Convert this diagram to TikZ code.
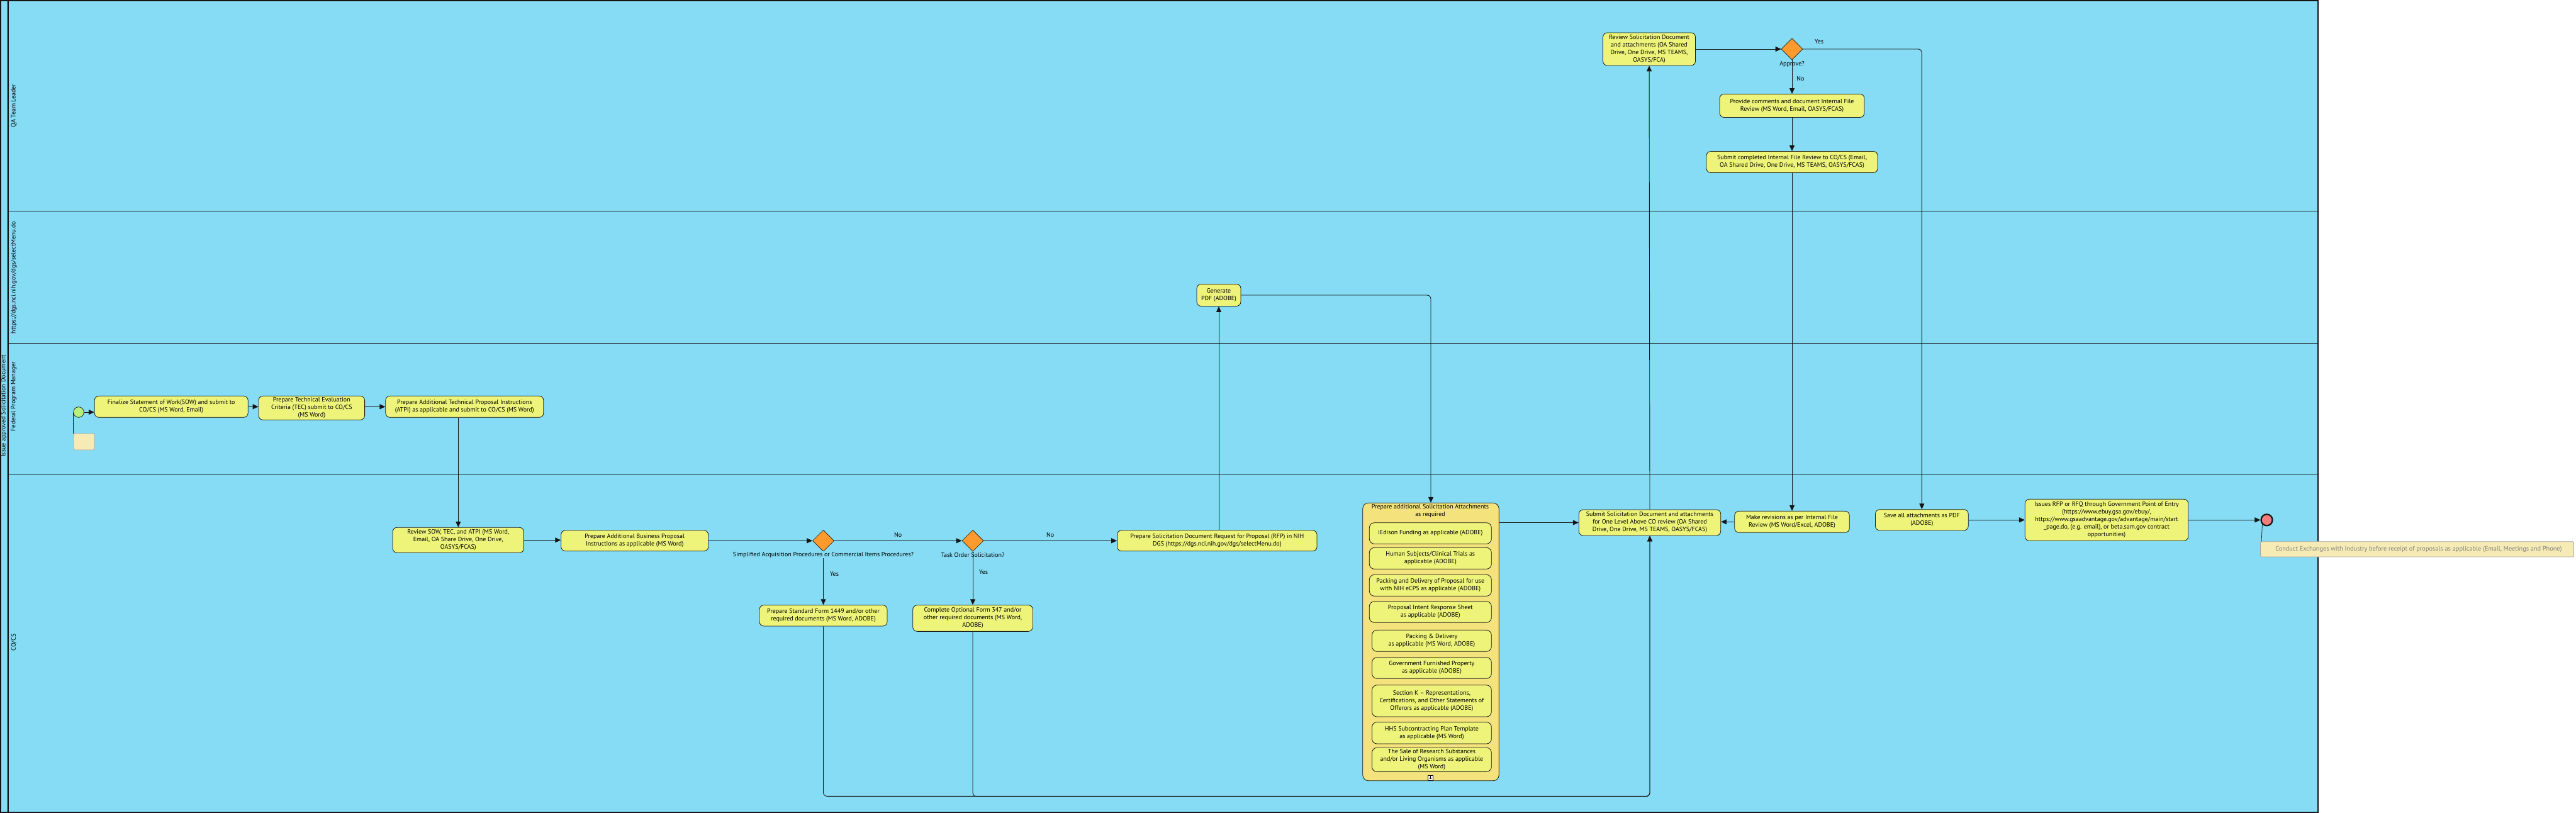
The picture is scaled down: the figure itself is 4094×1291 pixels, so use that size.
\documentclass[tikz,border=0pt]{standalone}
\usepackage{fontspec}
\setmainfont{PT Sans}
\usetikzlibrary{shapes.geometric,arrows.meta}
\definecolor{lanec}{HTML}{86DCF4}
\definecolor{taskc}{HTML}{EEF47A}
\definecolor{grpc}{HTML}{F4E27C}
\definecolor{gwc}{HTML}{FF9A2E}
\definecolor{startc}{HTML}{B8F07C}
\definecolor{endc}{HTML}{F47C7C}
\definecolor{annc}{HTML}{F6EBB4}
\definecolor{edgec}{HTML}{151515}
\begin{document}
\begin{tikzpicture}[x=1pt,y=-1pt,
  font=\fontsize{10}{12}\selectfont,
  task/.style={draw=edgec, line width=0.8pt, fill=taskc, rounded corners=7pt, align=center, inner sep=0pt},
  subtask/.style={task, rounded corners=8pt},
  gate/.style={diamond, draw=edgec, line width=0.6pt, fill=gwc, minimum width=34pt, minimum height=34pt, inner sep=0pt},
  flow/.style={draw=edgec, line width=0.9pt, -{Triangle[length=9pt,width=8pt]}},
  plain/.style={draw=edgec, line width=0.9pt},
  lbl/.style={inner sep=1pt},
  lanetitle/.style={rotate=90, inner sep=0pt},
  lanesep/.style={draw=edgec, line width=0.9pt},
  ann/.style={draw=black!35, fill=annc, rounded corners=2pt, line width=0.8pt, inner sep=0pt},
]
\useasboundingbox (0,0) rectangle (4094,1291);
\fill[white] (0,0) rectangle (4094,1291);
% pool
\node[draw=edgec, line width=1.6pt, fill=lanec, minimum width=3683pt, minimum height=1290pt, inner sep=0pt, anchor=north west] (pool) at (0,0) {};
\draw[lanesep] (11,0) -- (11,1290);
\draw[lanesep] (13.5,0) -- (13.5,1290);
\draw[lanesep] (13.5,335) -- (3683,335);
\draw[lanesep] (13.5,545) -- (3683,545);
\draw[lanesep] (13.5,753) -- (3683,753);
\node[lanetitle] (pooltitle) at (6,645) {Issue approved Solicitation Document};
\node[lanetitle] (lane1) at (22,168) {QA Team Leader};
\node[lanetitle] (lane2) at (22,441) {https://dgs.nci.nih.gov/dgs/selectMenu.do};
\node[lanetitle] (lane3) at (22,630) {Federal Program Manager};
\node[lanetitle] (lane4) at (22,1021) {CO/CS};

% lane 1
\node[task, minimum width=147pt, minimum height=52pt] (review) at (2621,78) {Review Solicitation Document\\and attachments (OA Shared\\Drive, One Drive, MS TEAMS,\\OASYS/FCA)};
\node[gate] (d3) at (2848,78) {};
\node[lbl] (d3l) at (2848,102) {Approve?};
\node[task, minimum width=230pt, minimum height=37pt] (pc) at (2848,168) {Provide comments and document Internal File\\Review (MS Word, Email, OASYS/FCAS)};
\node[task, minimum width=272pt, minimum height=34pt] (sc) at (2848,257.5) {Submit completed Internal File Review to CO/CS (Email,\\OA Shared Drive, One Drive, MS TEAMS, OASYS/FCAS)};

% lane 2
\node[task, minimum width=70pt, minimum height=35pt] (gen) at (1937,469) {Generate\\PDF (ADOBE)};

% lane 3
\node[ann, minimum width=33pt, minimum height=26pt] (ann1) at (133.5,702) {};
\draw[plain, line width=0.7pt] (ann1.north west) -- (ann1.north west |- 0,655);
\node[circle, draw=edgec, line width=0.7pt, fill=startc, minimum size=16.6pt, inner sep=0pt] (start) at (125,655) {};
\node[task, minimum width=244pt, minimum height=34pt] (fin) at (272.2,646.3) {Finalize Statement of Work(SOW) and submit to\\CO/CS (MS Word, Email)};
\node[task, minimum width=168.6pt, minimum height=38pt] (tec) at (495.3,648.3) {Prepare Technical Evaluation\\Criteria (TEC) submit to CO/CS\\(MS Word)};
\node[task, minimum width=251pt, minimum height=34pt] (atpi) at (738.3,646.3) {Prepare Additional Technical Proposal Instructions\\(ATPI) as applicable and submit to CO/CS (MS Word)};

% lane 4
\node[task, minimum width=208.5pt, minimum height=40pt] (rsow) at (728.3,858.3) {Review SOW, TEC, and ATPI (MS Word,\\Email, OA Share Drive, One Drive,\\OASYS/FCAS)};
\node[task, minimum width=234pt, minimum height=33pt] (bus) at (1008.7,859.3) {Prepare Additional Business Proposal\\Instructions as applicable (MS Word)};
\node[gate] (d1) at (1308.5,859.3) {};
\node[gate] (d2) at (1546,859.3) {};
\node[task, minimum width=317.5pt, minimum height=33pt] (rfp) at (1934.3,859.3) {Prepare Solicitation Document Request for Proposal (RFP) in NIH\\DGS (https://dgs.nci.nih.gov/dgs/selectMenu.do)};
\node[task, minimum width=203pt, minimum height=33.3pt] (sf) at (1308.5,978.3) {Prepare Standard Form 1449 and/or other\\required documents (MS Word, ADOBE)};
\node[task, minimum width=190.6pt, minimum height=41.7pt] (of) at (1546,982.5) {Complete Optional Form 347 and/or\\other required documents (MS Word,\\ADOBE)};

% group
\node[draw=edgec, line width=0.8pt, fill=grpc, rounded corners=9pt, minimum width=216.4pt, minimum height=441.4pt, inner sep=0pt] (grp) at (2274,1020) {};
\node[lbl, align=center] (grpt) at (2273,811.7) {Prepare additional Solicitation Attachments\\as required};
\node[subtask, minimum width=194pt, minimum height=33.6pt] (ied) at (2273.3,847.5) {iEdison Funding as applicable (ADOBE)};
\node[subtask, minimum width=194pt, minimum height=34pt] (hum) at (2273.3,887.3) {Human Subjects/Clinical Trials as\\applicable (ADOBE)};
\node[subtask, minimum width=194pt, minimum height=34pt] (pk1) at (2273.3,930.3) {Packing and Delivery of Proposal for use\\with NIH eCPS as applicable (ADOBE)};
\node[subtask, minimum width=194pt, minimum height=33.6pt] (pis) at (2273.3,972.5) {Proposal Intent Response Sheet\\as applicable (ADOBE)};
\node[subtask, minimum width=189.8pt, minimum height=34pt] (pk2) at (2275.4,1018.3) {Packing \& Delivery\\as applicable (MS Word, ADOBE)};
\node[subtask, minimum width=189.8pt, minimum height=33.6pt] (gfp) at (2275.4,1061.5) {Government Furnished Property\\as applicable (ADOBE)};
\node[subtask, minimum width=189.8pt, minimum height=50.3pt] (seck) at (2275.4,1113.9) {Section K – Representations,\\Certifications, and Other Statements of\\Offerors as applicable (ADOBE)};
\node[subtask, minimum width=189.8pt, minimum height=34.5pt] (hhs) at (2275.4,1164.8) {HHS Subcontracting Plan Template\\as applicable (MS Word)};
\node[subtask, minimum width=189.8pt, minimum height=38.3pt] (sale) at (2275.4,1207.3) {The Sale of Research Substances\\and/or Living Organisms as applicable\\(MS Word)};
\node[draw=black, fill=white, line width=0.5pt, minimum size=8pt, inner sep=0pt] (plus) at (2273.5,1236) {};
\draw[line width=0.7pt] (plus.west) ++(1.5,0) -- ++(5,0) (plus.north) ++(0,1.5) -- ++(0,5);

\node[task, minimum width=225.5pt, minimum height=41pt] (sub) at (2622,830.5) {Submit Solicitation Document and attachments\\for One Level Above CO review (OA Shared\\Drive, One Drive, MS TEAMS, OASYS/FCAS)};
\node[task, minimum width=182.6pt, minimum height=34pt] (mr) at (2848,829.3) {Make revisions as per Internal File\\Review (MS Word/Excel, ADOBE)};
\node[task, minimum width=147.7pt, minimum height=33.3pt] (save) at (3054.3,826.3) {Save all attachments as PDF\\(ADOBE)};
\node[task, minimum width=259.5pt, minimum height=66pt] (issues) at (3348,826.3) {Issues RFP or RFQ through Government Point of Entry\\(https://www.ebuy.gsa.gov/ebuy/,\\https://www.gsaadvantage.gov/advantage/main/start\\\_page.do, (e.g. email), or beta.sam.gov contract\\opportunities)};
\node[circle, draw=edgec, line width=2.2pt, fill=endc, minimum size=18pt, inner sep=0pt] (end) at (3602.5,826.3) {};
\node[ann, minimum width=498pt, minimum height=24.3pt] (ann2) at (3841.5,872.8) {};
\node[lbl, text=black!50, anchor=west, font=\fontsize{10.3}{12}\selectfont] (ann2t) at (3615,872.8) {Conduct Exchanges with Industry before receipt of proposals as applicable (Email, Meetings and Phone)};
\draw[plain, line width=0.7pt] (ann2.north west) ++(2,0) -- (end.south west);

% flows lane 3
\draw[flow] (start.east) -- (start.east -| fin.west);
\draw[flow] (fin.east) -- (fin.east -| tec.west);
\draw[flow] (tec.east |- atpi.west) -- (atpi.west);
\draw[flow] (atpi.south -| rsow.north) -- (rsow.north);
% lane 4
\draw[flow] (rsow.east) -- (rsow.east -| bus.west);
\draw[flow] (bus.east) -- (d1.west);
\draw[flow] (d1.east) -- node[lbl, above=4pt] {No} (d2.west);
\draw[flow] (d2.east) -- node[lbl, above=4pt] {No} (rfp.west);
\draw[flow] (d1.south) -- (sf.north);
\draw[flow] (d2.south) -- (of.north);
\node[lbl, fill=lanec] (d1l) at (1308.5,881.5) {Simplified Acquisition Procedures or Commercial Items Procedures?};
\node[lbl] (d2l) at (1546,881.5) {Task Order Solicitation?};
\node[lbl] (d1y) at (1326,912) {Yes};
\node[lbl] (d2y) at (1563,909) {Yes};
\draw[flow] (rfp.north -| gen.south) -- (gen.south);
\draw[flow, rounded corners=6pt] (gen.east) -| (grp.north);
\draw[flow] (sub.west -| grp.east) -- (sub.west);
\draw[flow, rounded corners=6pt] (sf.south) -- ++(0,270) -| (sub.south);
\draw[flow, rounded corners=6pt] (of.south) -- ++(0,262) -| (sub.south);
\draw[flow] (sub.north) -- (review.south);
\draw[flow] (review.east |- d3.west) -- (d3.west);
\draw[flow] (d3.south) -- node[lbl, right=6pt, pos=0.55] {No} (pc.north);
\draw[flow] (pc.south) -- (sc.north);
\draw[flow] (sc.south) -- (mr.north);
\draw[flow] (mr.west) -- (mr.west -| sub.east);
\draw[flow, rounded corners=6pt] (d3.east) -| (save.north);
\node[lbl] (d3y) at (2891,66) {Yes};
\draw[flow] (save.east) -- (save.east -| issues.west);
\draw[flow] (issues.east) -- (end.west);
\end{tikzpicture}
\end{document}
